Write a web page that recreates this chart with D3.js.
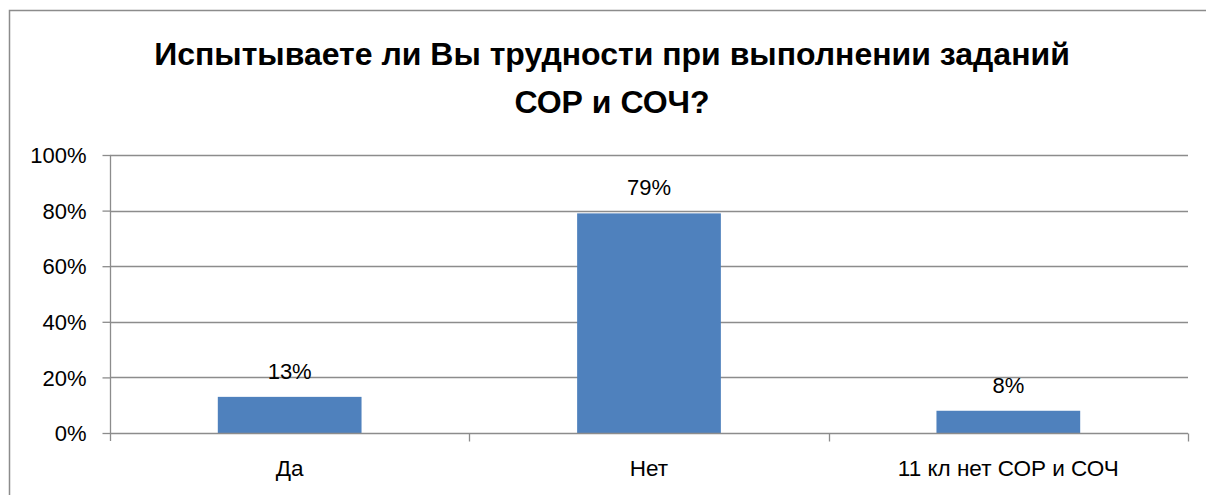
<!DOCTYPE html>
<html>
<head>
<meta charset="utf-8">
<script src="https://cdn.jsdelivr.net/npm/d3@7"></script>
<style>
  html, body { margin: 0; padding: 0; background: #fff; }
  svg { display: block; }
  text { font-family: "Liberation Sans", Arial, sans-serif; fill: #000; }
</style>
</head>
<body>
<svg id="chart" width="1206" height="495"></svg>
<script>
// Survey answers: share of respondents per option
const categories = ["Да", "Нет", "11 кл нет СОР и СОЧ"];
const values = [0.13, 0.79, 0.08];
const valueLabels = ["13%", "79%", "8%"];
const yTicks = [0, 0.2, 0.4, 0.6, 0.8, 1.0];
const titleLines = ["Испытываете ли Вы трудности при выполнении заданий", "СОР и СОЧ?"];

const svg = d3.select("#chart");
const plot = { left: 110, right: 1188, top: 155, bottom: 433 };
const axisColor = "#8c8c8c";

// chart frame (continues past the right and bottom edges)
svg.append("rect")
  .attr("x", 9.5).attr("y", 10.5)
  .attr("width", 1208).attr("height", 500)
  .attr("fill", "#fff")
  .attr("stroke", axisColor).attr("stroke-width", 1.5);

// title
const title = svg.append("text")
  .attr("text-anchor", "middle")
  .style("font-weight", "bold")
  .style("font-size", "32px");
titleLines.forEach((t, i) => {
  title.append("tspan").attr("x", 612).attr("y", 65 + i * 48).text(t);
});

const x = d3.scaleBand().domain(categories).range([plot.left, plot.right]).paddingInner(0).paddingOuter(0);
const y = d3.scaleLinear().domain([0, 1]).range([plot.bottom, plot.top]);

// horizontal gridlines
svg.append("g").selectAll("line").data(yTicks.filter(d => d > 0)).join("line")
  .attr("x1", plot.left).attr("x2", plot.right)
  .attr("y1", d => Math.round(y(d)) + 0.5).attr("y2", d => Math.round(y(d)) + 0.5)
  .attr("stroke", axisColor).attr("stroke-width", 1.3);

// bars: 40% of each category band, centred
const barW = x.bandwidth() * 0.4;
svg.append("g").selectAll("rect").data(values).join("rect")
  .attr("x", (d, i) => x(categories[i]) + (x.bandwidth() - barW) / 2)
  .attr("y", d => y(d))
  .attr("width", barW)
  .attr("height", d => y(0) - y(d))
  .attr("fill", "#4F81BD");

// value labels above bars
svg.append("g").selectAll("text").data(values).join("text")
  .attr("x", (d, i) => x(categories[i]) + x.bandwidth() / 2)
  .attr("y", d => y(d) - 18)
  .attr("text-anchor", "middle")
  .style("font-size", "22px")
  .text((d, i) => valueLabels[i]);

// y axis
const yAxis = d3.axisLeft(y).tickValues(yTicks).tickFormat(d3.format(".0%")).tickSize(8).tickPadding(16);
const gy = svg.append("g").attr("transform", `translate(${plot.left + 0.5},0)`).call(yAxis);
gy.select(".domain").remove();
gy.append("line").attr("x1", 0).attr("x2", 0).attr("y1", plot.top).attr("y2", plot.bottom + 8)
  .attr("stroke", axisColor).attr("stroke-width", 1.3);
gy.selectAll(".tick line").attr("stroke", axisColor).attr("stroke-width", 1.3);
gy.selectAll(".tick text").style("font-size", "22px").style("font-family", "'Liberation Sans', Arial, sans-serif").attr("fill", "#000").attr("dy", "0.35em");

// x axis with ticks at category boundaries
const gx = svg.append("g").attr("transform", `translate(0,${Math.round(plot.bottom) + 0.5})`);
gx.append("line").attr("x1", plot.left).attr("x2", plot.right).attr("stroke", axisColor).attr("stroke-width", 1.3);
const bounds = categories.map(c => x(c)).concat([x(categories[categories.length - 1]) + x.bandwidth()]);
gx.selectAll("line.b").data(bounds.slice(1)).join("line").attr("class", "b")
  .attr("x1", d => Math.round(d) + 0.5).attr("x2", d => Math.round(d) + 0.5)
  .attr("y1", 0).attr("y2", 8)
  .attr("stroke", axisColor).attr("stroke-width", 1.3);
gx.selectAll("text").data(categories).join("text")
  .attr("x", d => x(d) + x.bandwidth() / 2)
  .attr("y", 42)
  .attr("text-anchor", "middle")
  .style("font-size", "22.5px")
  .text(d => d);
</script>
</body>
</html>
